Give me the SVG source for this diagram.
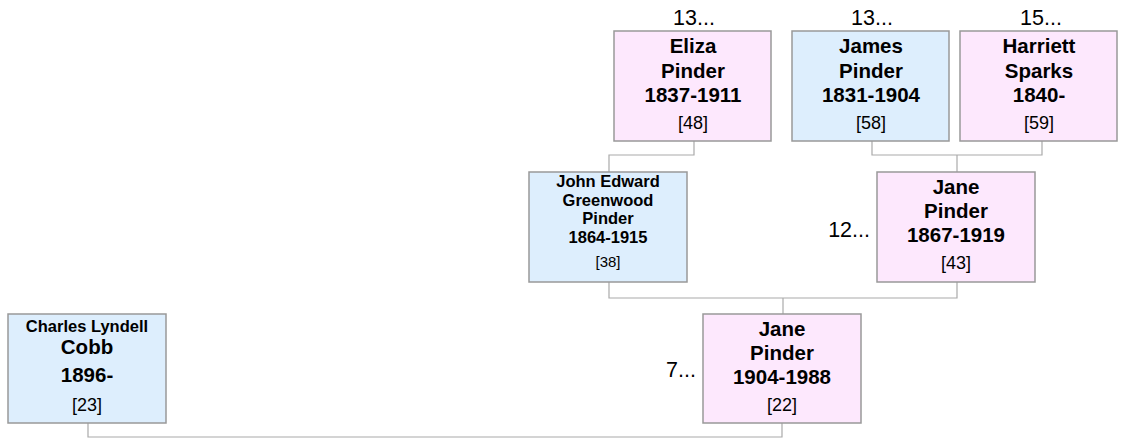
<svg xmlns="http://www.w3.org/2000/svg" width="1124" height="439" viewBox="0 0 1124 439">
<style>
.f{fill:#fde8fd;stroke:#999;stroke-width:1.5}
.m{fill:#ddeefd;stroke:#999;stroke-width:1.5}
text{font-family:"Liberation Sans",Arial,sans-serif;fill:#000;text-anchor:middle}
.b{font-weight:bold;font-size:20.5px}
.s{font-weight:bold;font-size:16.5px}
.n{font-size:18px}
.l{font-size:21.5px}
.ns{font-size:15px}
.c path{fill:none;stroke:#aaa;stroke-width:1.2}
</style>
<rect width="1124" height="439" fill="#fff"/>
<g class="c" id="connectors">
<path d="M694 141V155H609V172"/>
<path d="M872 141V155H1042V141"/>
<path d="M957 155V172"/>
<path d="M609 282V298H957V282"/>
<path d="M783 298V314"/>
<path d="M782 423V437H88V423"/>
</g>
<g id="n48">
<text class="l" x="694" y="25">13...</text>
<rect class="f" x="614" y="31" width="157" height="110"/>
<text class="b" x="693" y="53">Eliza</text>
<text class="b" x="693" y="78">Pinder</text>
<text class="b" x="693" y="102">1837-1911</text>
<text class="n" x="693" y="129">[48]</text>
</g>
<g id="n58">
<text class="l" x="872" y="25">13...</text>
<rect class="m" x="792" y="31" width="157" height="110"/>
<text class="b" x="871" y="53">James</text>
<text class="b" x="871" y="78">Pinder</text>
<text class="b" x="871" y="102">1831-1904</text>
<text class="n" x="871" y="129">[58]</text>
</g>
<g id="n59">
<text class="l" x="1041" y="25">15...</text>
<rect class="f" x="960" y="31" width="157" height="110"/>
<text class="b" x="1039" y="53">Harriett</text>
<text class="b" x="1039" y="78">Sparks</text>
<text class="b" x="1039" y="102">1840-</text>
<text class="n" x="1039" y="129">[59]</text>
</g>
<g id="n38">
<rect class="m" x="529" y="172" width="158" height="110"/>
<text class="s" x="608" y="187">John Edward</text>
<text class="s" x="608" y="206">Greenwood</text>
<text class="s" x="608" y="224">Pinder</text>
<text class="s" x="608" y="243">1864-1915</text>
<text class="ns" x="608" y="267">[38]</text>
</g>
<g id="n43">
<text class="l" x="870" y="237" style="text-anchor:end">12...</text>
<rect class="f" x="877" y="172" width="158" height="110"/>
<text class="b" x="956" y="194">Jane</text>
<text class="b" x="956" y="218">Pinder</text>
<text class="b" x="956" y="242">1867-1919</text>
<text class="n" x="956" y="269">[43]</text>
</g>
<g id="n22">
<text class="l" x="696" y="377" style="text-anchor:end">7...</text>
<rect class="f" x="703" y="314" width="158" height="109"/>
<text class="b" x="782" y="336">Jane</text>
<text class="b" x="782" y="360">Pinder</text>
<text class="b" x="782" y="384">1904-1988</text>
<text class="n" x="782" y="411">[22]</text>
</g>
<g id="n23">
<rect class="m" x="8" y="314" width="158" height="109"/>
<text class="s" x="87" y="332">Charles Lyndell</text>
<text class="b" x="87" y="354">Cobb</text>
<text class="b" x="87" y="382">1896-</text>
<text class="n" x="87" y="411">[23]</text>
</g>
</svg>
